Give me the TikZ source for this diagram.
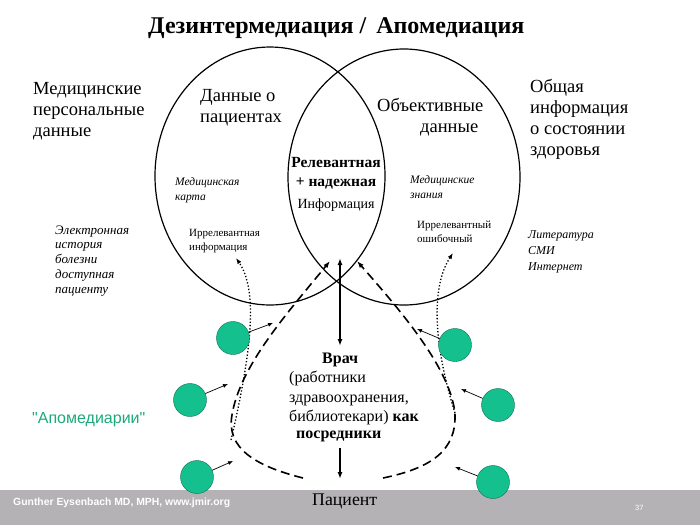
\documentclass[tikz,border=0pt]{standalone}
\usepackage{fontspec}
\setmainfont{Liberation Serif}
\setsansfont{Liberation Sans}
\newfontfamily\plainsans{Liberation Sans}
\usetikzlibrary{arrows.meta}
\definecolor{agentgreen}{RGB}{20,192,142}
\definecolor{agentedge}{RGB}{12,110,82}
\definecolor{labelgreen}{RGB}{28,170,125}
\definecolor{bandgray}{RGB}{180,178,180}

\begin{document}
\begin{tikzpicture}[x=1pt,y=-1pt,
		% multi-line nodes sit on the baseline of their last line
		txt/.style={inner sep=0pt,anchor=base west,align=left},
		heading/.style={txt,font=\fontsize{18.5}{20.7}\selectfont},
		note/.style={txt,font=\fontsize{11.5}{15}\selectfont\itshape},
		small/.style={txt,font=\fontsize{11}{13.5}\selectfont},
		middle/.style={txt,font=\fontsize{14}{19}\selectfont},
		agent/.style={circle,draw=agentedge,fill=agentgreen,minimum size=33pt,inner sep=0pt},
		field/.style={line width=1.2pt},
		pointer/.style={line width=0.7pt,-{Latex[length=5pt,width=4pt]}},
		mainarrow/.style={line width=1.6pt,-{Latex[length=7pt,width=5pt]}},
		flow/.style={line width=1.6pt,dash pattern=on 9pt off 5pt,-{Latex[length=7pt,width=5pt]}},
		leak/.style={line width=1.3pt,dash pattern=on 1.3pt off 2pt,-{Latex[length=6pt,width=4.5pt]}}
	]
	\useasboundingbox (0,0) rectangle (700,525);
	\fill[white] (0,0) rectangle (700,525);
	% footer band
	\fill[bandgray] (0,490) rectangle (700,525);
	\node[txt,font=\sffamily\bfseries\fontsize{10.4}{12}\selectfont,text=white] (credit) at (13,505)
		{Gunther Eysenbach MD, MPH, www.jmir.org};
	\node[txt,font=\sffamily\fontsize{7.5}{8}\selectfont,text=white] (slideno) at (635,510) {37};
	%
	\node[txt,font=\fontsize{24}{26}\selectfont\bfseries] (title) at (148,33)
		{Дезинтермедиация /\hspace{4pt} Апомедиация};
	% two information fields
	\draw[field] (270,176) ellipse (115 and 129);
	\draw[field] (404,177) ellipse (116 and 128);
	%
	\node[heading] (personal) at (33,136) {Медицинские\\персональные\\данные};
	\node[heading] (patdata)  at (200,122) {Данные о\\пациентах};
	\node[heading] (objdata)  at (377,132) {Объективные\\\hspace{43pt}данные};
	\node[heading] (general)  at (530,155) {Общая\\информация\\о состоянии\\здоровья};
	\node[middle,align=center,anchor=base] (relevant) at (336,208)
		{\fontsize{15.5}{19}\selectfont\bfseries Релевантная\\
		\fontsize{15.5}{18}\selectfont\bfseries + надежная\\[3pt]Информация};
	\node[note]  (record)    at (175,200) {Медицинская\\карта};
	\node[small] (irrelL)    at (189,250) {Иррелевантная\\информация};
	\node[note]  (knowledge) at (410,198) {Медицинские\\знания};
	\node[small] (irrelR)    at (417,242) {Иррелевантный\\ошибочный};
	\node[note,font=\fontsize{13}{14.7}\selectfont\itshape] (ehr) at (55,293)
		{Электронная\\история\\болезни\\доступная\\пациенту};
	\node[note,font=\fontsize{12}{16}\selectfont\itshape] (media) at (528,270)
		{Литература\\СМИ\\Интернет};
	% intermediaries
	\node[middle,font=\fontsize{16}{19.5}\selectfont] (doctor) at (289,438)
		{\hspace{33pt}\bfseries Врач\\(работники\\здравоохранения,\\библиотекари) \textbf{как}\\[-3pt]
		\hspace{7pt}\bfseries посредники};
	\node[txt,font=\fontsize{17.8}{20}\selectfont] (patient) at (312,505) {Пациент};
	\node[txt,font=\plainsans\fontsize{16}{17}\selectfont,text=labelgreen] (apomed) at (32,423)
		{"Апомедиарии"};
	%
	\coordinate (docTop) at (340,258);
	\coordinate (docBot) at (340,346);
	\coordinate (patTop) at (340,448);
	\coordinate (patBot) at (340,479);
	\draw[mainarrow,{Latex[length=7pt,width=5pt]}-{Latex[length=7pt,width=5pt]}] (docBot) -- (docTop);
	\draw[mainarrow] (patTop) -- (patBot);
	% apomediated paths around the doctor
	\coordinate (flowL) at (303,478);
	\coordinate (flowR) at (383,478);
	\coordinate (tipL) at (330,261);
	\coordinate (tipR) at (357,261);
	\draw[flow] (flowL) .. controls (255,466) and (226,448) .. (232,415)
		.. controls (240,365) and (290,310) .. (tipL);
	\draw[flow] (flowR) .. controls (432,468) and (456,450) .. (455,415)
		.. controls (452,370) and (400,310) .. (tipR);
	\coordinate (leakL) at (231,440);
	\coordinate (leakLtip) at (236,258);
	\coordinate (leakR) at (455,413);
	\coordinate (leakRtip) at (453,253);
	\draw[leak] (leakL) .. controls (252,350) and (258,290) .. (leakLtip);
	\draw[leak] (leakR) .. controls (432,340) and (432,285) .. (leakRtip);
	% apomediaries
	\node[agent] (agL1) at (233,338) {};
	\node[agent] (agL2) at (190,400) {};
	\node[agent] (agL3) at (197,477) {};
	\node[agent] (agR1) at (455,345) {};
	\node[agent] (agR2) at (498,405) {};
	\node[agent] (agR3) at (493,482) {};
	\coordinate (inL1) at (273,323);
	\coordinate (inL2) at (228,384);
	\coordinate (inL3) at (233,461);
	\coordinate (inR1) at (417,329);
	\coordinate (inR2) at (461,389);
	\coordinate (inR3) at (455,467);
	\foreach \ag/\tip in {agL1/inL1,agL2/inL2,agL3/inL3,agR1/inR1,agR2/inR2,agR3/inR3}
		\draw[pointer] (\ag) -- (\tip);
\end{tikzpicture}
\end{document}
